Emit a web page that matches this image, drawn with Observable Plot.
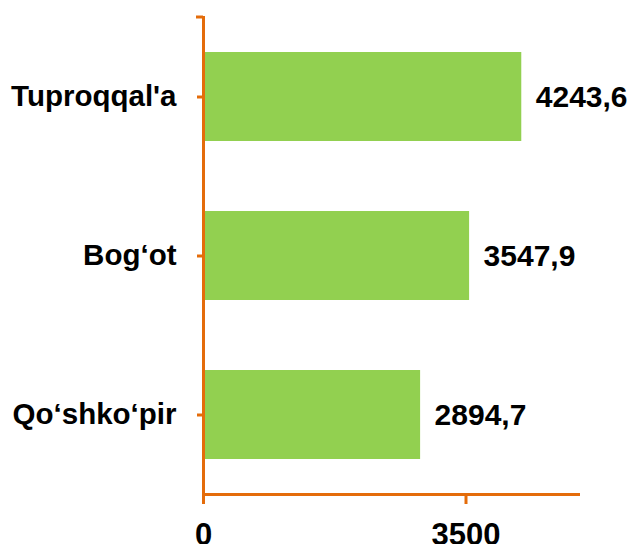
<!DOCTYPE html>
<html><head><meta charset="utf-8">
<script src="https://cdn.jsdelivr.net/npm/d3@7"></script>
<script src="https://cdn.jsdelivr.net/npm/@observablehq/plot@0.6"></script>
<style>body{margin:0;background:#fff} svg{display:block}</style>
</head><body><div id="chart"></div>
<script>
const categories = ["Tuproqqal'a", "Bog‘ot", "Qo‘shko‘pir"];
const values = [4243.6, 3547.9, 2894.7];
const xTicks = [0, 3500];
const xDomain = [0, 5000];

const data = categories.map((c, i) => ({category: c, value: values[i]}));
const orange = "#E46C0A";
const green = "#92D050";
const fmt = v => v.toFixed(1).replace(".", ",");

const topTick = (index, scales, vals, dims) => {
  const l = document.createElementNS("http://www.w3.org/2000/svg", "line");
  l.setAttribute("x1", dims.marginLeft - 7);
  l.setAttribute("x2", dims.marginLeft);
  l.setAttribute("y1", dims.marginTop);
  l.setAttribute("y2", dims.marginTop);
  l.setAttribute("stroke", orange);
  l.setAttribute("stroke-width", 3);
  return l;
};

const chart = Plot.plot({
  width: 635, height: 544,
  marginLeft: 203, marginRight: 57, marginTop: 17, marginBottom: 50,
  style: {fontFamily: "'Liberation Sans', Arial, sans-serif", fontWeight: "bold", color: "#000", background: "#fff"},
  x: {domain: xDomain, axis: null},
  y: {domain: categories, paddingInner: 0.44, paddingOuter: 0.22, axis: null},
  marks: [
    Plot.barX(data, {x: "value", y: "category", fill: green}),
    Plot.text(data, {x: "value", y: "category", text: d => fmt(d.value), textAnchor: "start", dx: 14, fontSize: 30, fontWeight: "bold", fill: "#000"}),
    Plot.frame({anchor: "left", stroke: orange, strokeWidth: 3}),
    Plot.frame({anchor: "bottom", stroke: orange, strokeWidth: 3}),
    Plot.axisY({label: null, tickSize: 6, tickPadding: 21, stroke: orange, strokeWidth: 3, strokeOpacity: 1, fill: "#000", fontSize: 29.5, fontWeight: "bold"}),
    Plot.axisX(xTicks, {label: null, tickSize: 10, tickPadding: 18, stroke: orange, strokeWidth: 3, strokeOpacity: 1, fill: "#000", fontSize: 31, fontWeight: "bold", tickFormat: d => String(d)}),
    topTick
  ]
});
document.getElementById("chart").appendChild(chart);
</script>
</body></html>
